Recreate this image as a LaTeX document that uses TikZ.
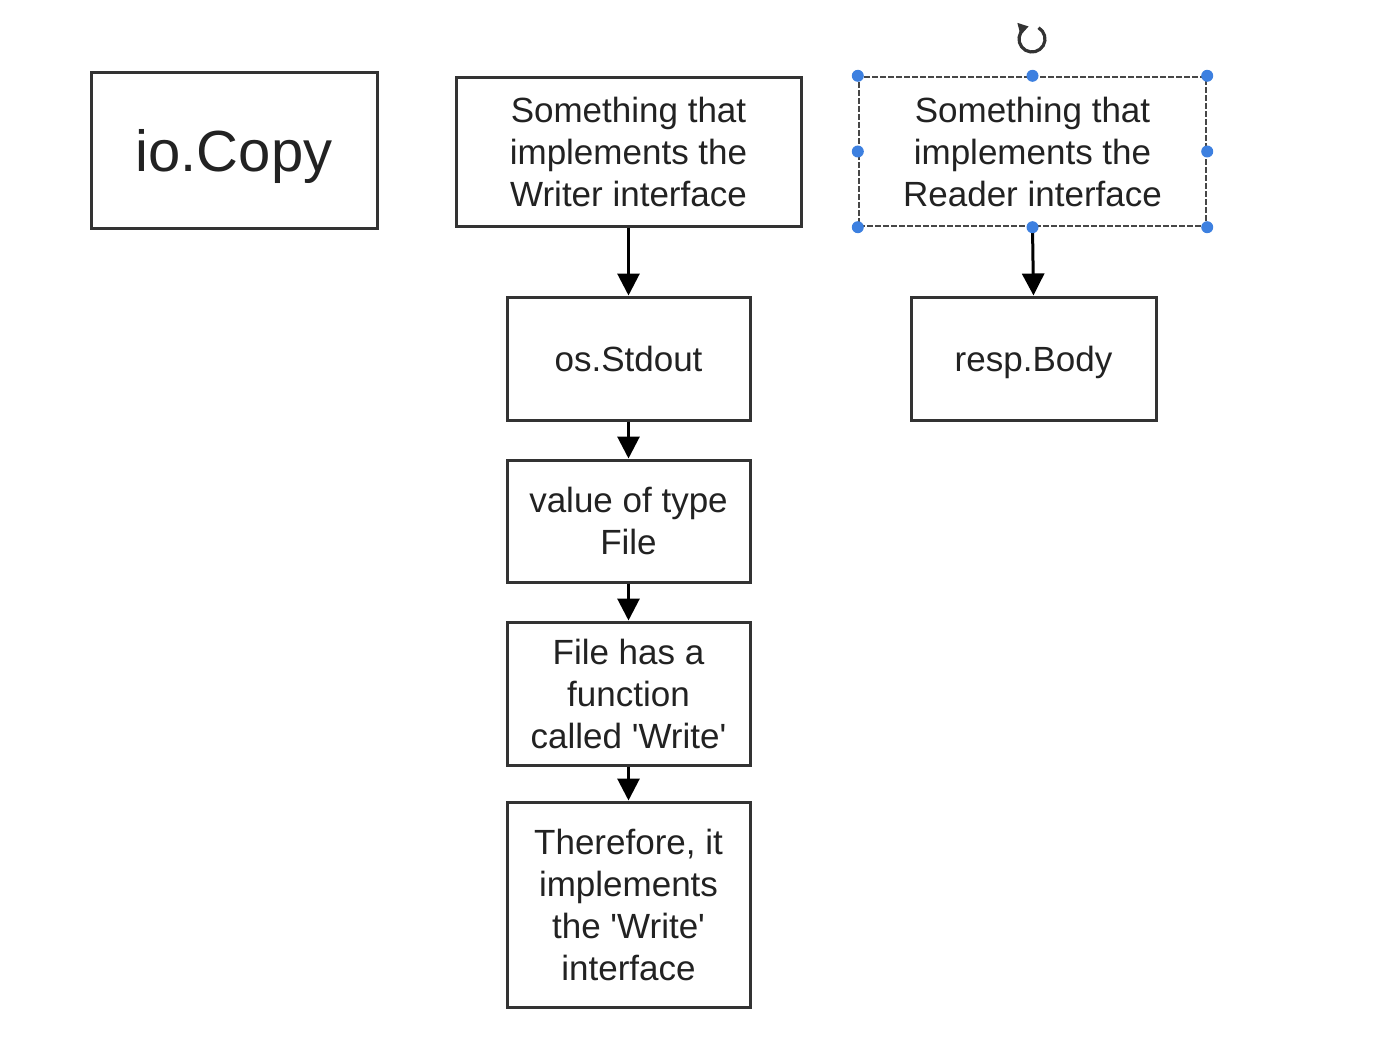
\documentclass[tikz,border=0pt]{standalone}
\usepackage{fontspec}
\setmainfont{Liberation Sans}[Ligatures=TeXOff]
\usetikzlibrary{arrows.meta}
\definecolor{boxline}{HTML}{333333}
\definecolor{txt}{HTML}{222222}
\definecolor{handle}{HTML}{3D80E0}
\tikzset{
  box/.style={draw=boxline, line width=1.5pt, fill=white, inner sep=0pt, align=center,
    text=txt, font=\fontsize{17.5}{21}\selectfont},
  selbox/.style={box, draw=boxline!90, dashed, dash pattern=on 3pt off 1pt, line width=1.2pt},
  conn/.style={draw=black, line width=1.5pt, -{Triangle[width=11pt,length=11pt]}},
  hdl/.style={circle, fill=handle, inner sep=0pt, minimum size=6pt}
}
\begin{document}
\begin{tikzpicture}[x=0.5pt,y=-0.5pt]
\useasboundingbox (0,0) rectangle (1398,1054);
\fill[white] (0,0) rectangle (1398,1054);
\node[box, minimum width=143pt, minimum height=77.5pt, text depth=0pt, font=\fontsize{29}{34}\selectfont] (copy) at (234,150.5) {io.Copy};
\node[box, minimum width=172.5pt, minimum height=74pt] (writer) at (628.5,152) {Something that\\implements the\\Writer interface};
\node[selbox, minimum width=173.5pt, minimum height=74.5pt] (reader) at (1032.5,151.5) {Something that\\implements the\\Reader interface};
\node[box, minimum width=121.5pt, minimum height=61.5pt] (stdout) at (628.5,358.5) {os.Stdout};
\node[box, minimum width=122.5pt, minimum height=61.5pt, text depth=0pt] (body) at (1033.5,358.5) {resp.Body};
\node[box, minimum width=121.5pt, minimum height=61pt] (value) at (628.5,521) {value of type\\File};
\node[box, minimum width=121.5pt, minimum height=71.5pt] (hasfn) at (628.5,693.5) {File has a\\function\\called 'Write'};
\node[box, minimum width=121.5pt, minimum height=102.5pt] (there) at (628.5,904.5) {Therefore, it\\implements\\the 'Write'\\interface};
\draw[conn] (writer.south) -- (stdout.north);
\draw[conn] (reader.south) -- (body.north);
\draw[conn] (stdout.south) -- (value.north);
\draw[conn] (value.south) -- (hasfn.north);
\draw[conn] (hasfn.south) -- (there.north);
% selection handles
\foreach \a in {north west,north,north east,east,south east,south,south west,west}
  \node[hdl] at (reader.\a) {};
% rotation handle
\coordinate (rot) at (1032,39);
\draw[boxline, line width=1.6pt, -{Triangle[width=6pt,length=5pt]}] ([shift={(-60:13)}]rot) arc[start angle=-60, end angle=255, radius=13];
\end{tikzpicture}
\end{document}
